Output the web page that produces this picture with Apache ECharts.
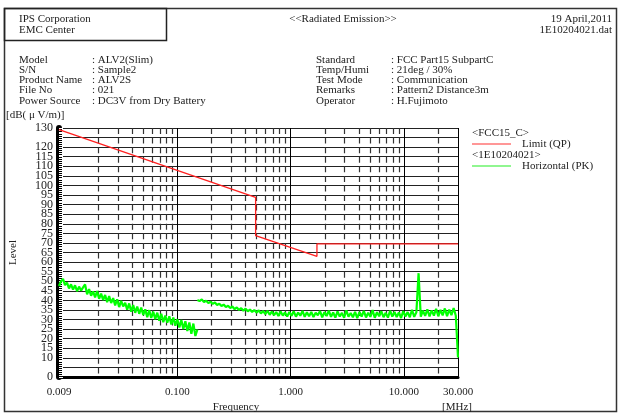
<!DOCTYPE html>
<html><head><meta charset="utf-8">
<script src="https://cdn.jsdelivr.net/npm/echarts@6/dist/echarts.min.js"></script>
<style>html,body{margin:0;padding:0;background:#fff}#c{width:622px;height:416px}</style>
</head><body><div id="c"></div><script>
// ---- data ----
var xMajorTicks = [0.009, 0.1, 1, 10, 30];
var xMinorTicks = [0.02,0.03,0.04,0.05,0.06,0.07,0.08,0.09,0.2,0.3,0.4,0.5,0.6,0.7,0.8,0.9,2,3,4,5,6,7,8,9,20];
var limitFreq  = [0.009, 0.49, 0.49, 1.705, 1.705, 30];
var limitLevel = [129.2, 93.8, 73.8, 63.0, 69.5, 69.5];
// sweep 1: 0.009 - 0.150 MHz
var sweep1Start = 0.009, sweep1Stop = 0.150;
var pkLow = [47.5,50.0,51.2,48.0,49.3,46.2,48.4,45.6,47.9,44.8,47.2,45.1,46.8,48.3,43.2,45.9,42.4,44.7,41.6,44.9,
  40.8,43.5,40.2,42.8,39.1,42.3,38.6,41.2,37.4,40.6,36.5,39.8,36.9,38.7,35.2,38.4,34.1,37.6,33.5,36.8,
  33.0,36.2,32.4,35.3,31.2,34.9,30.8,34.1,30.2,33.6,29.4,33.0,28.6,32.1,28.3,31.7,27.4,31.0,26.8,30.2,
  25.9,29.8,25.1,29.1,24.0,28.5,22.6,27.9,21.4,24.8];
// sweep 2: 0.150 - 30 MHz
var sweep2Start = 0.150, sweep2Stop = 30;
var pkHigh = [40.2,39.6,40.5,39.1,39.8,38.6,39.3,
  38.2,38.9,37.6,38.3,37.1,37.8,36.5,37.2,36.0,
  36.8,35.4,36.3,35.0,35.9,34.6,35.7,34.3,35.2,33.9,35.0,33.6,
  34.8,33.2,34.5,32.8,34.6,32.5,34.1,32.3,33.9,31.8,34.2,32.1,33.7,31.6,33.9,
  31.9,34.3,31.5,33.6,32.0,34.5,31.4,33.8,31.7,34.0,31.3,33.5,32.2,34.4,31.1,33.9,31.8,34.6,
  31.4,33.7,31.0,34.2,31.6,33.5,30.9,34.8,31.5,33.4,31.2,34.0,30.8,33.9,31.6,34.5,31.1,33.6,31.4,34.9,
  30.9,33.8,31.7,34.3,31.2,33.5,31.0,34.6,31.5,34.0,31.3,33.7,30.8,34.4,31.6,33.9,31.2,35.1,31.4,33.8,
  54.2,
  31.5,34.6,31.9,35.3,31.6,34.8,32.0,35.6,31.7,35.0,32.2,35.8,31.8,35.2,32.3,36.0,32.0,
  10.2];
var yHiddenLabels = [5, 125];

// ---- build ----
function sweep(start, stop, vals) {
  var n = vals.length, out = [];
  for (var i = 0; i < n; i++) {
    out.push([start * Math.pow(stop / start, i / (n - 1)), vals[i]]);
  }
  return out;
}
var limitData = limitFreq.map(function (f, i) { return [f, limitLevel[i]]; });
var pkData = sweep(sweep1Start, sweep1Stop, pkLow).concat([[0.1505, '-']]).concat(sweep(sweep2Start, sweep2Stop, pkHigh));

var FONT = '"Liberation Serif", "DejaVu Serif", serif';
var TC = '#222';
function txt(x, y, s, align, size) {
  return { type: 'text', x: x, y: y, silent: true,
    style: { text: s, fill: TC, font: (size || 11) + 'px ' + FONT, textAlign: align || 'left', textVerticalAlign: 'middle' } };
}
var rowsY = [60, 70.2, 80.4, 90.6, 100.8];
var leftLabels = ['Model', 'S/N', 'Product Name', 'File No', 'Power Source'];
var leftVals = [': ALV2(Slim)', ': Sample2', ': ALV2S', ': 021', ': DC3V from Dry Battery'];
var rightLabels = ['Standard', 'Temp/Humi', 'Test Mode', 'Remarks', 'Operator'];
var rightVals = [': FCC Part15 SubpartC', ': 21deg / 30%', ': Communication', ': Pattern2 Distance3m', ': H.Fujimoto'];
var graphics = [
  { type: 'rect', shape: { x: 4.5, y: 8.5, width: 612, height: 403 }, style: { fill: 'none', stroke: '#333', lineWidth: 1.5 }, silent: true },
  { type: 'rect', shape: { x: 4.5, y: 8.5, width: 162, height: 32 }, style: { fill: 'none', stroke: '#222', lineWidth: 1.5 }, silent: true },
  txt(19, 19, 'IPS Corporation'), txt(19, 30, 'EMC Center'),
  txt(343, 19, '<<Radiated Emission>>', 'center'),
  txt(612, 19, '19 April,2011', 'right'), txt(612, 30, '1E10204021.dat', 'right'),
  txt(6, 115, '[dB( μ V/m)]'),
  txt(472, 133, '<FCC15_C>'),
  { type: 'line', shape: { x1: 472, y1: 144, x2: 511, y2: 144 }, style: { stroke: '#ff3030', lineWidth: 1.2 }, silent: true },
  txt(522, 144, 'Limit (QP)'),
  txt(472, 155, '<1E10204021>'),
  { type: 'line', shape: { x1: 472, y1: 166, x2: 511, y2: 166 }, style: { stroke: '#22ee22', lineWidth: 1.2 }, silent: true },
  txt(522, 166, 'Horizontal (PK)'),
  txt(236, 407, 'Frequency', 'center'),
  txt(457, 407, '[MHz]', 'center')
];
for (var i = 0; i < 5; i++) {
  graphics.push(txt(19, rowsY[i], leftLabels[i]), txt(92, rowsY[i], leftVals[i]),
                txt(316, rowsY[i], rightLabels[i]), txt(391, rowsY[i], rightVals[i]));
}

var chart = echarts.init(document.getElementById('c'), null, { renderer: 'canvas' });
chart.setOption({
  animation: false,
  backgroundColor: '#fff',
  textStyle: { fontFamily: FONT },
  grid: { left: 58, right: 164, top: 128, bottom: 39 },
  xAxis: [{
    type: 'log', logBase: 10, min: 0.009, max: 30,
    axisLine: { show: true, lineStyle: { color: '#000', width: 3 } },
    axisTick: { show: false, customValues: xMajorTicks },
    axisLabel: { show: true, customValues: xMajorTicks, margin: 10, color: TC, fontSize: 11, fontFamily: FONT,
      formatter: function (v) { return (+v).toFixed(3); } },
    splitLine: { show: true, lineStyle: { color: '#000', width: 1 } },
    minorTick: { show: false }, minorSplitLine: { show: false }
  }, {
    type: 'log', logBase: 10, min: 0.009, max: 30, position: 'bottom',
    axisLine: { show: false }, axisLabel: { show: false },
    axisTick: { show: false, customValues: xMinorTicks },
    splitLine: { show: true, lineStyle: { color: '#333', width: 1.2, type: [6, 3.577], dashOffset: 0 } }
  }],
  yAxis: {
    type: 'value', min: 0, max: 130, interval: 5,
    name: 'Level', nameLocation: 'middle', nameGap: 40, nameRotate: 90,
    nameTextStyle: { color: TC, fontSize: 11, fontFamily: FONT },
    axisLine: { show: true, lineStyle: { color: '#000', width: 6 } },
    axisTick: { show: true, inside: true, length: 4, lineStyle: { color: '#fff', width: 1 } },
    minorTick: { show: true, splitNumber: 5, length: 3, lineStyle: { color: '#fff', width: 1 } },
    axisLabel: { margin: 6, color: TC, fontSize: 12, fontFamily: FONT,
      formatter: function (v) { return yHiddenLabels.indexOf(v) >= 0 ? '' : String(v); } },
    splitLine: { show: true, lineStyle: { color: '#222', width: 1 } }
  },
  series: [{
    name: 'Limit (QP)', type: 'line', xAxisIndex: 0, data: limitData, showSymbol: false,
    lineStyle: { color: '#ff2020', width: 1.3 }, z: 5
  }, {
    name: 'Horizontal (PK)', type: 'line', xAxisIndex: 0, data: pkData, showSymbol: false, connectNulls: false,
    lineStyle: { color: '#00ff00', width: 2.2 }, z: 4
  }],
  graphic: graphics
});
</script></body></html>
